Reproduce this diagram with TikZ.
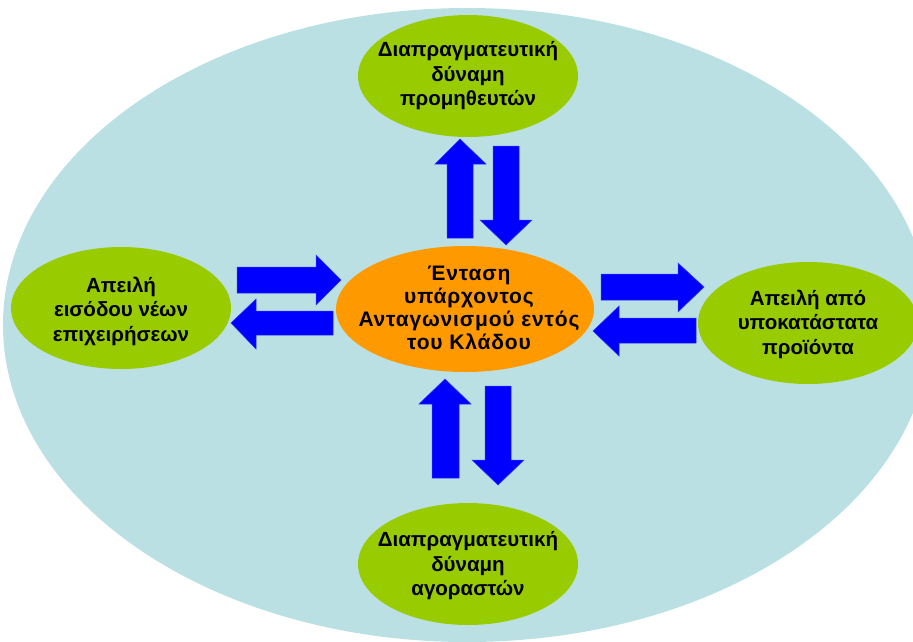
\documentclass[tikz,border=0pt]{standalone}
\usepackage{fontspec}
\setmainfont{Liberation Sans}
\usetikzlibrary{shapes.geometric}
\definecolor{bgblue}{RGB}{186,224,228}
\definecolor{leafgreen}{RGB}{153,204,0}
\definecolor{warmorange}{RGB}{255,153,0}
\definecolor{arrowblue}{RGB}{0,0,255}
\tikzset{
  bubble/.style={ellipse, inner sep=0pt, minimum width=220pt, minimum height=122pt, fill=leafgreen},
  hub/.style={ellipse, inner sep=0pt, minimum width=258pt, minimum height=126pt, fill=warmorange},
  label text/.style={align=center, inner sep=0pt, font=\bfseries\fontsize{20.5}{24.5}\selectfont},
  blockarrow/.style={fill=arrowblue, draw=arrowblue!80!white, line width=0.5pt, line join=miter}
}
\begin{document}
\begin{tikzpicture}[x=1pt,y=-1pt]
\useasboundingbox (0,0) rectangle (913,641);
\fill[bgblue] (467,325) ellipse [x radius=464pt, y radius=317pt];

% ellipses
\node[bubble] (sup) at (468,76) {};
\node[bubble] (buy) at (468,564) {};
\node[bubble] (ent) at (121,308) {};
\node[bubble] (sub) at (808,323) {};
\node[hub] (core) at (465,309) {};

% texts
\node[label text] (supt) at (468,76) {Διαπραγματευτική\\δύναμη\\προμηθευτών};
\node[label text] (buyt) at (468,566) {Διαπραγματευτική\\δύναμη\\αγοραστών};
\node[label text] (entt) at (121,311) {Απειλή\\εισόδου νέων\\επιχειρήσεων};
\node[label text] (subt) at (808,324) {Απειλή από\\υποκατάστατα\\προϊόντα};
\node[label text, font=\bfseries\fontsize{21}{23}\selectfont\addfontfeature{LetterSpace=4}] (coret) at (469,308) {Ένταση\\υπάρχοντος\\Ανταγωνισμού εντός\\του Κλάδου};

% top pair
\fill[blockarrow] (460,139) -- (486,164) -- (473,164) -- (473,238) -- (447,238) -- (447,164) -- (435,164) -- cycle;
\fill[blockarrow] (506,245) -- (532,220) -- (519,220) -- (519,146) -- (493,146) -- (493,220) -- (480,220) -- cycle;
% bottom pair
\fill[blockarrow] (445,379) -- (471,404) -- (459,404) -- (459,478) -- (432,478) -- (432,404) -- (419,404) -- cycle;
\fill[blockarrow] (498,485) -- (524,460) -- (511,460) -- (511,386) -- (485,386) -- (485,460) -- (472,460) -- cycle;
% left pair
\fill[blockarrow] (341,280) -- (316,255) -- (316,267) -- (237,267) -- (237,293) -- (316,293) -- (316,305) -- cycle;
\fill[blockarrow] (231,323) -- (256,299) -- (256,311) -- (333,311) -- (333,335) -- (256,335) -- (256,349) -- cycle;
% right pair
\fill[blockarrow] (704,287) -- (678,263) -- (678,274) -- (601,274) -- (601,300) -- (678,300) -- (678,312) -- cycle;
\fill[blockarrow] (593,331) -- (619,306) -- (619,318) -- (696,318) -- (696,343) -- (619,343) -- (619,356) -- cycle;
\end{tikzpicture}
\end{document}
